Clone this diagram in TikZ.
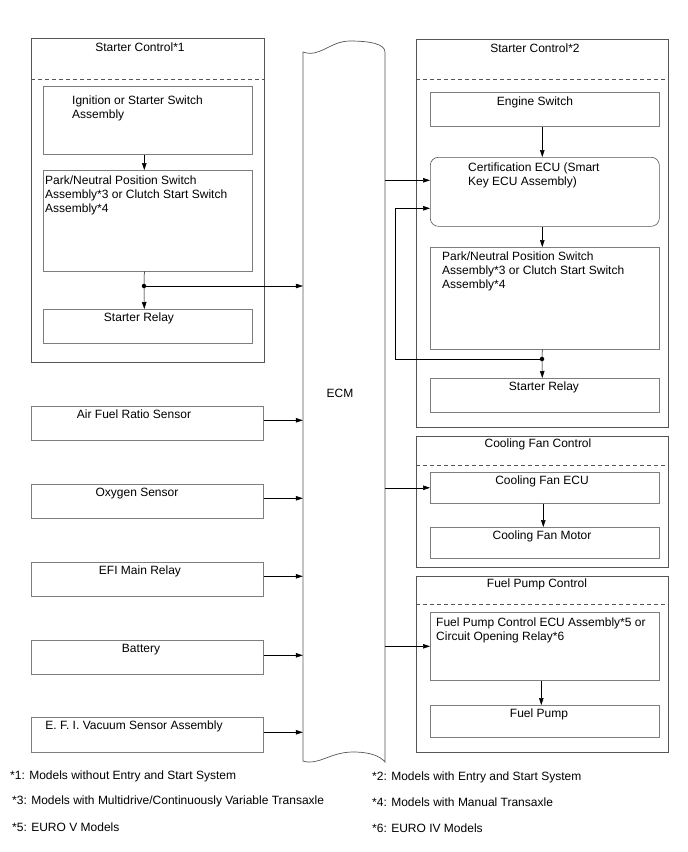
\documentclass[tikz,border=0pt]{standalone}
\usepackage{fontspec}
\setmainfont{Liberation Sans}
\usetikzlibrary{arrows.meta}
\definecolor{frameGray}{RGB}{85, 85, 85}
\definecolor{boxGray}{RGB}{125, 125, 125}

\tikzset{
  grp/.style={draw=frameGray, line width=0.8pt, rectangle, inner sep=0, anchor=north west},
  blk/.style={draw=boxGray, line width=0.6pt, rectangle, inner sep=0, anchor=north west},
  txt/.style={inner sep=0, font=\fontsize{12}{14}\selectfont},
  sig/.style={line width=0.5pt, -{Triangle[length=7pt,width=4.5pt]}},
  jdot/.style={circle, fill, inner sep=0, minimum size=4.5pt},
  sep/.style={draw=frameGray, line width=0.6pt, dash pattern=on 4pt off 3pt}
}

\begin{document}
\begin{tikzpicture}[x=1pt, y=-1pt]
  \useasboundingbox (0,0) rectangle (688,852);

  % ECM body
  \node[inner sep=0, minimum width=82pt, minimum height=709pt] (ecm) at (344,406.5) {};
  \draw[draw=frameGray, line width=0.7pt] (303,52) -- (303,761)
    .. controls (318,766) and (330,752) .. (353,752)
    .. controls (370,752) and (380,756) .. (385,762) -- (385,52)
    .. controls (385,44) and (370,41) .. (350,41)
    .. controls (330,41) and (320,58) .. (303,52) -- cycle;
  \node[txt] (ecmlbl) at (340,393) {ECM};

  % Starter control *1
  \node[grp, minimum width=233pt, minimum height=324pt] (grp1) at (31,38) {};
  \node[txt, anchor=north] (grp1t) at (140,43) {Starter Control*1};
  \draw[sep] (grp1.west |- 0,79) -- (grp1.east |- 0,79);
  \node[blk, minimum width=209pt, minimum height=68pt] (ign) at (43,86) {};
  \node[txt, anchor=north west, align=left] (ignt) at (72,96) {Ignition or Starter Switch\\Assembly};
  \node[blk, minimum width=209pt, minimum height=101pt] (pn1) at (43,170) {};
  \node[txt, anchor=north west, align=left] (pn1t) at (45,176) {Park/Neutral Position Switch\\Assembly*3 or Clutch Start Switch\\Assembly*4};
  \node[blk, minimum width=209pt, minimum height=34pt] (sr1) at (43,309) {};
  \node[txt, anchor=north] (sr1t) at (139,313) {Starter Relay};
  \node[jdot] (j1) at (144,286) {};
  \draw[sig] ([xshift=-3.5pt]ign.south) -- ([xshift=-3.5pt]pn1.north);
  \draw[line width=0.5pt] ([xshift=-3.5pt]pn1.south) -- (j1.center);
  \draw[sig] (j1.center) -- ([xshift=-3.5pt]sr1.north);
  \draw[sig] (j1.center) -- (ecm.west |- j1);

  % Inputs
  \node[blk, minimum width=232pt, minimum height=34pt] (afr) at (31,406) {};
  \node[txt, anchor=north] (afrt) at (134,410) {Air Fuel Ratio Sensor};
  \node[blk, minimum width=232pt, minimum height=34pt] (oxs) at (31,484) {};
  \node[txt, anchor=north] (oxst) at (137,488) {Oxygen Sensor};
  \node[blk, minimum width=232pt, minimum height=34pt] (efi) at (31,562) {};
  \node[txt, anchor=north] (efit) at (140,566) {EFI Main Relay};
  \node[blk, minimum width=232pt, minimum height=34pt] (bat) at (31,640) {};
  \node[txt, anchor=north] (batt) at (141,644) {Battery};
  \node[blk, minimum width=232pt, minimum height=35pt] (vac) at (31,717) {};
  \node[txt, anchor=north] (vact) at (134,721) {E. F. I. Vacuum Sensor Assembly};
  \coordinate (afro) at ([yshift=3pt]afr.east);
  \coordinate (oxso) at ([yshift=3pt]oxs.east);
  \coordinate (efio) at ([yshift=3pt]efi.east);
  \coordinate (bato) at ([yshift=2pt]bat.east);
  \coordinate (vaco) at ([yshift=2.5pt]vac.east);
  \draw[sig] (afro) -- (ecm.west |- afro);
  \draw[sig] (oxso) -- (ecm.west |- oxso);
  \draw[sig] (efio) -- (ecm.west |- efio);
  \draw[sig] (bato) -- (ecm.west |- bato);
  \draw[sig] (vaco) -- (ecm.west |- vaco);

  % Starter control *2
  \node[grp, minimum width=252pt, minimum height=388pt] (grp2) at (416,39) {};
  \node[txt, anchor=north] (grp2t) at (535,44) {Starter Control*2};
  \draw[sep] (grp2.west |- 0,79) -- (grp2.east |- 0,79);
  \node[blk, minimum width=229pt, minimum height=34pt] (eng) at (430,92) {};
  \node[txt, anchor=north] (engt) at (535,97) {Engine Switch};
  \node[blk, draw=frameGray, rounded corners=8pt, minimum width=229pt, minimum height=69pt] (cert) at (430,157) {};
  \node[txt, anchor=north west, align=left] (certt) at (468,163) {Certification ECU (Smart\\Key ECU Assembly)};
  \node[blk, minimum width=229pt, minimum height=102pt] (pn2) at (430,247) {};
  \node[txt, anchor=north west, align=left] (pn2t) at (442,252) {Park/Neutral Position Switch\\Assembly*3 or Clutch Start Switch\\Assembly*4};
  \node[blk, minimum width=229pt, minimum height=34pt] (sr2) at (430,378) {};
  \node[txt, anchor=north] (sr2t) at (544,382) {Starter Relay};
  \node[jdot] (j2) at (542,359) {};
  \coordinate (c1) at ([yshift=11.5pt]cert.west);
  \coordinate (c2) at ([yshift=-16.5pt]cert.west);
  \draw[sig] ([xshift=-2.5pt]eng.south) -- ([xshift=-2.5pt]cert.north);
  \draw[sig] ([xshift=-2.5pt]cert.south) -- ([xshift=-2.5pt]pn2.north);
  \draw[line width=0.5pt] ([xshift=-2.5pt]pn2.south) -- (j2.center);
  \draw[sig] (j2.center) -- ([xshift=-2.5pt]sr2.north);
  \draw[sig] (j2.center) -| ([xshift=-35pt]c2) -- (c2);
  \draw[sig] (ecm.east |- c1) -- (c1);

  % Cooling fan control
  \node[grp, minimum width=252pt, minimum height=131pt] (grp3) at (416,436) {};
  \node[txt, anchor=north] (grp3t) at (538,439) {Cooling Fan Control};
  \draw[sep] (grp3.west |- 0,465) -- (grp3.east |- 0,465);
  \node[blk, minimum width=229pt, minimum height=31pt] (cfecu) at (430,472) {};
  \node[txt, anchor=north] (cfecut) at (542,476) {Cooling Fan ECU};
  \node[blk, minimum width=229pt, minimum height=31pt] (cfm) at (430,527) {};
  \node[txt, anchor=north] (cfmt) at (542,531) {Cooling Fan Motor};
  \draw[sig] ([xshift=-1.5pt]cfecu.south) -- ([xshift=-1.5pt]cfm.north);
  \draw[sig] (ecm.east |- cfecu.west) -- (cfecu.west);

  % Fuel pump control
  \node[grp, minimum width=252pt, minimum height=176pt] (grp4) at (416,576) {};
  \node[txt, anchor=north] (grp4t) at (537,579) {Fuel Pump Control};
  \draw[sep] (grp4.west |- 0,604) -- (grp4.east |- 0,604);
  \node[blk, minimum width=229pt, minimum height=68pt] (fpecu) at (430,612) {};
  \node[txt, anchor=north west, align=left] (fpecut) at (436,618) {Fuel Pump Control ECU Assembly*5 or\\Circuit Opening Relay*6};
  \node[blk, minimum width=229pt, minimum height=32pt] (fpm) at (430,705) {};
  \node[txt, anchor=north] (fpmt) at (539,709) {Fuel Pump};
  \draw[sig] ([xshift=-3.5pt]fpecu.south) -- ([xshift=-3.5pt]fpm.north);
  \draw[sig] (ecm.east |- fpecu.west) -- (fpecu.west);

  % Notes
  \node[txt, anchor=west] (n1) at (10,776) {*1: Models without Entry and Start System};
  \node[txt, anchor=west] (n3) at (12,801) {*3: Models with Multidrive/Continuously Variable Transaxle};
  \node[txt, anchor=west] (n5) at (12,827) {*5: EURO V Models};
  \node[txt, anchor=west] (n2) at (372,777) {*2: Models with Entry and Start System};
  \node[txt, anchor=west] (n4) at (372,802) {*4: Models with Manual Transaxle};
  \node[txt, anchor=west] (n6) at (372,828) {*6: EURO IV Models};
\end{tikzpicture}
\end{document}
